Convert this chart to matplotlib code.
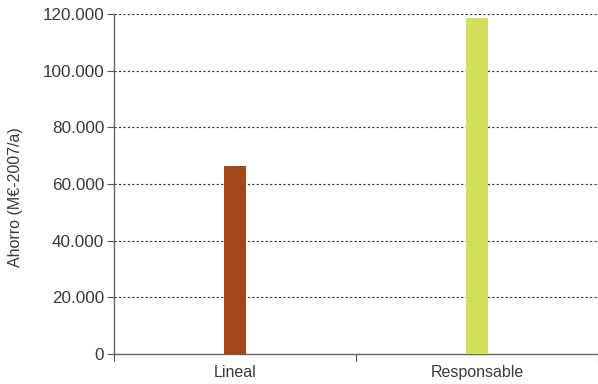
import matplotlib
matplotlib.use("Agg")
import matplotlib.pyplot as plt
from matplotlib.ticker import FuncFormatter

categories = ["Lineal", "Responsable"]
values = [66400, 118600]
colors = ["#A1471A", "#D3E05C"]
yticks = [0, 20000, 40000, 60000, 80000, 100000, 120000]

plt.rcParams['font.family'] = ['Liberation Sans', 'DejaVu Sans']
fig = plt.figure(figsize=(5.98, 3.84), dpi=100)
ax = fig.add_axes([114/598, 30/384, 1 - 114/598, 340/384])

x = list(range(len(categories)))
ax.bar(x, values, width=0.09, color=colors, zorder=3)

ax.set_xlim(-0.5, len(categories) - 0.5)
ax.set_ylim(0, 120000)
ax.set_yticks(yticks)
ax.yaxis.set_major_formatter(FuncFormatter(lambda v, p: f"{int(v):,}".replace(",", ".")))
ax.grid(axis='y', linestyle=(0, (2, 2)), color='#333333', linewidth=0.8, zorder=0)

ax.set_xticks([i - 0.5 for i in range(len(categories) + 1)])
ax.set_xticklabels([])
ax.set_xticks(x, minor=True)
ax.set_xticklabels(categories, minor=True)
ax.tick_params(axis='x', which='minor', length=0, pad=8, labelsize=11.5, labelcolor='#3a3a3a')
ax.tick_params(axis='x', which='major', length=5, color='#555555', direction='out')
ax.tick_params(axis='y', length=5, color='#555555', labelsize=12.3, labelcolor='#3a3a3a', pad=2)

for s in ['top', 'right']:
    ax.spines[s].set_visible(False)
for s in ['left', 'bottom']:
    ax.spines[s].set_color('#666666')
    ax.spines[s].set_linewidth(1.0)

ax.set_ylabel("Ahorro (M€-2007/a)", fontsize=11.5, color='#3a3a3a')
ax.yaxis.set_label_coords(-(114 - 23) / 484, (354 - 197) / 340)

fig.savefig("out.png", dpi=100)
